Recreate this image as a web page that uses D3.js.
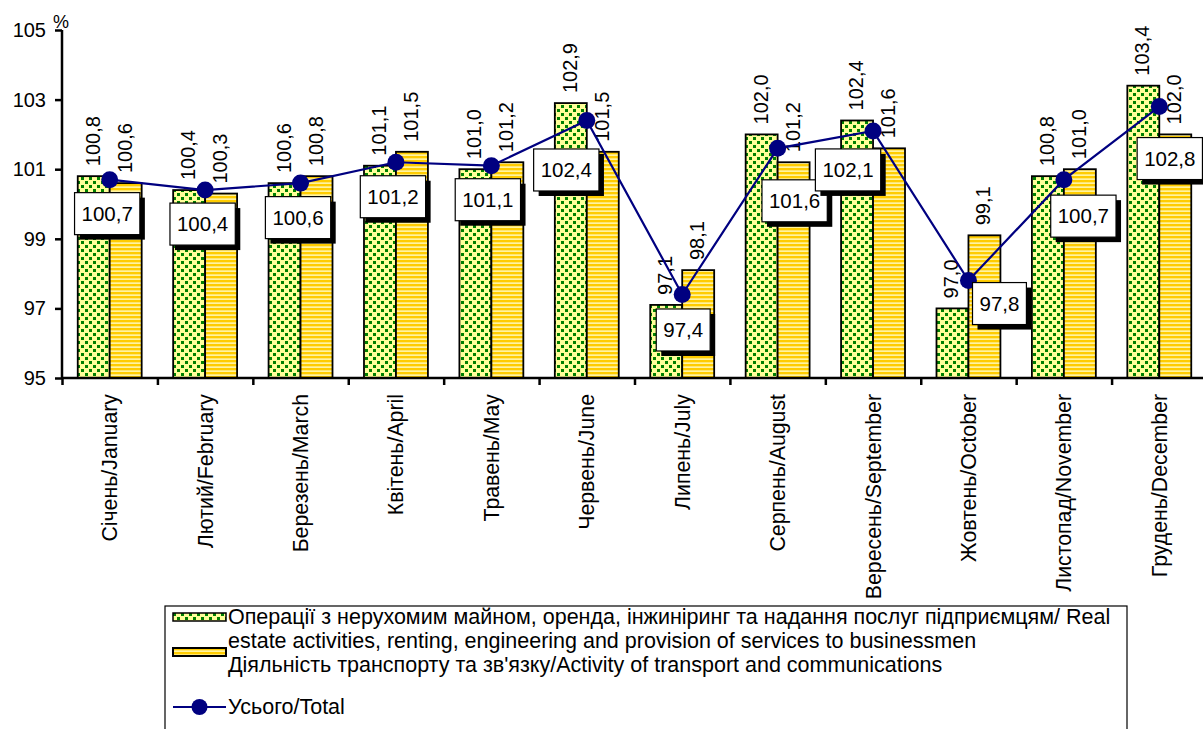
<!DOCTYPE html>
<html>
<head>
<meta charset="utf-8">
<script src="https://cdn.jsdelivr.net/npm/d3@7"></script>
<style>
  html, body { margin: 0; padding: 0; background: #fff; }
  svg { display: block; font-family: "Liberation Sans", Arial, sans-serif; }
</style>
</head>
<body>
<svg id="chart" width="1203" height="729"></svg>
<script>
const months = ["Січень/January","Лютий/February","Березень/March","Квітень/April","Травень/May","Червень/June","Липень/July","Серпень/August","Вересень/September","Жовтень/October","Листопад/November","Грудень/December"];
const realEstate = [100.8,100.4,100.6,101.1,101.0,102.9,97.1,102.0,102.4,97.0,100.8,103.4];
const transport  = [100.6,100.3,100.8,101.5,101.2,101.5,98.1,101.2,101.6,99.1,101.0,102.0];
const total      = [100.7,100.4,100.6,101.2,101.1,102.4,97.4,101.6,102.1,97.8,100.7,102.8];
const yTicks = [95,97,99,101,103,105];
const seriesNames = [
  ["Операції з нерухомим майном, оренда, інжиніринг та надання послуг підприємцям/ Real", "estate activities, renting, engineering and provision of services to businessmen"],
  ["Діяльність транспорту та зв'язку/Activity of transport and communications"],
  ["Усього/Total"]
];
// layout: offset of each total-label box centre from its point (pixels)
const labelShift = [[-2.5,34],[-2.5,34],[-2.5,34.5],[-3,34.5],[-3.5,34],[-20.5,49.5],[1,35.5],[17,52.5],[-25,39],[31,23],[19.5,36.5],[10.5,52]];

const svg = d3.select("#chart");
const fmt = v => v.toFixed(1).replace(".", ",");

const x0 = d3.scaleBand().domain(months).range([62, 1207]).paddingInner(0.33).paddingOuter(0.165);
const x1 = d3.scaleBand().domain([0,1]).range([0, x0.bandwidth()]);
const y = d3.scaleLinear().domain([95,105]).range([378,30]);
const step = x0.step();

// patterns
const defs = svg.append("defs");
const pg = defs.append("pattern").attr("id","dots").attr("patternUnits","userSpaceOnUse").attr("width",8).attr("height",8);
pg.append("rect").attr("width",8).attr("height",8).attr("fill","#ffff99");
pg.append("rect").attr("x",1).attr("y",1).attr("width",3).attr("height",3).attr("fill","#008000");
pg.append("rect").attr("x",5).attr("y",5).attr("width",3).attr("height",3).attr("fill","#008000");
const py = defs.append("pattern").attr("id","stripes").attr("patternUnits","userSpaceOnUse").attr("width",8).attr("height",4);
py.append("rect").attr("width",8).attr("height",4).attr("fill","#fff3a0");
py.append("rect").attr("y",0).attr("width",8).attr("height",2.3).attr("fill","#ffcc00");

const fills = ["url(#dots)","url(#stripes)"];
const series = [realEstate, transport];

// bars
const g = svg.append("g");
months.forEach((m,i) => {
  series.forEach((s,k) => {
    const v = s[i];
    g.append("rect")
      .attr("x", x0(m) + x1(k))
      .attr("y", y(v))
      .attr("width", x1.bandwidth())
      .attr("height", y(95) - y(v))
      .attr("fill", fills[k])
      .attr("stroke","#000").attr("stroke-width",1.8);
  });
});

// axes
const yAxis = d3.axisLeft(y).tickValues(yTicks).tickSize(7).tickFormat(d3.format("d"));
const ya = svg.append("g").attr("transform","translate(62,0)").call(yAxis);
ya.select(".domain").attr("stroke","#000").attr("stroke-width",2.5).attr("d","M0,30V378");
ya.selectAll(".tick line").attr("stroke","#000").attr("stroke-width",2.5);
ya.selectAll(".tick text").attr("font-size",20).attr("fill","#000").attr("x",-16).attr("font-family","Liberation Sans, Arial, sans-serif");
svg.append("text").attr("x",53).attr("y",28).attr("font-size",18).text("%");

const xb = d3.scaleLinear().domain([0,12]).range([62, 62 + 12*step]);
const xa = svg.append("g").attr("transform","translate(0,378)")
  .call(d3.axisBottom(xb).ticks(12).tickSize(7).tickFormat(""));
xa.select(".domain").attr("stroke","#000").attr("stroke-width",2.5).attr("d","M62,0H1207");
xa.selectAll(".tick line").attr("stroke","#000").attr("stroke-width",2.5);

// category labels
svg.append("g").selectAll("text").data(months).join("text")
  .attr("transform", d => `translate(${x0(d) + x0.bandwidth()/2},394) rotate(-90)`)
  .attr("text-anchor","end").attr("dy","0.35em").attr("font-size",21.3).text(d => d);

// bar value labels
months.forEach((m,i) => {
  series.forEach((s,k) => {
    const v = s[i];
    svg.append("text")
      .attr("transform", `translate(${x0(m) + x1(k) + x1.bandwidth()/2 - 1},${y(v) - 10}) rotate(-90)`)
      .attr("text-anchor","start").attr("dy","0.35em").attr("font-size",20).text(fmt(v));
  });
});

// total line
const cx = i => x0(months[i]) + x0.bandwidth()/2;
const line = d3.line().x((d,i) => cx(i)).y(d => y(d));
svg.append("path").datum(total).attr("d", line).attr("fill","none").attr("stroke","#000080").attr("stroke-width",2.2);
svg.append("g").selectAll("circle").data(total).join("circle")
  .attr("cx",(d,i)=>cx(i)).attr("cy",d=>y(d)).attr("r",8.5).attr("fill","#000080");

// total labels in boxes
total.forEach((v,i) => {
  const bx = cx(i) + labelShift[i][0], by = y(v) + labelShift[i][1];
  const lg = svg.append("g");
  const t = lg.append("text").attr("x",bx).attr("y",by).attr("text-anchor","middle").attr("dy","0.35em").attr("font-size",20.5).text(fmt(v));
  const w = t.node().getComputedTextLength() + 14, h = 42;
  lg.insert("rect","text").attr("x",bx - w/2 + 5).attr("y",by - h/2 + 5).attr("width",w).attr("height",h).attr("fill","#000");
  lg.insert("rect","text").attr("x",bx - w/2).attr("y",by - h/2).attr("width",w).attr("height",h).attr("fill","#fff").attr("stroke","#000").attr("stroke-width",1.2);
});

// legend
const lgd = svg.append("g");
lgd.append("rect").attr("x",165).attr("y",606).attr("width",962).attr("height",140).attr("fill","#fff").attr("stroke","#000").attr("stroke-width",1.2);
lgd.append("rect").attr("x",173).attr("y",613).attr("width",53).attr("height",8).attr("fill","url(#dots)").attr("stroke","#000").attr("stroke-width",1.5);
lgd.append("rect").attr("x",173).attr("y",648).attr("width",53).attr("height",8).attr("fill","url(#stripes)").attr("stroke","#000").attr("stroke-width",2);
lgd.append("line").attr("x1",173).attr("x2",226).attr("y1",707).attr("y2",707).attr("stroke","#000080").attr("stroke-width",2.2);
lgd.append("circle").attr("cx",199.5).attr("cy",707).attr("r",8).attr("fill","#000080");
const lines = [[seriesNames[0][0],624],[seriesNames[0][1],648],[seriesNames[1][0],672],[seriesNames[2][0],714]];
lines.forEach(([t,yy]) => lgd.append("text").attr("x",228).attr("y",yy).attr("font-size",21.5).text(t));
</script>
</body>
</html>
